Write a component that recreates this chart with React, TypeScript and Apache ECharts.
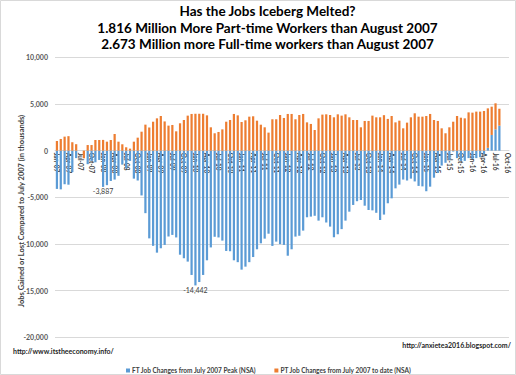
import React, { useEffect, useRef } from 'react';
import * as echarts from 'echarts';

const MONTHS = ['Jan', 'Feb', 'Mar', 'Apr', 'May', 'Jun', 'Jul', 'Aug', 'Sep', 'Oct', 'Nov', 'Dec'];
const YEARS = ['07', '08', '09', '10', '11', '12', '13', '14', '15', '16'];
// Jan-07 .. Oct-16
const CATEGORIES: string[] = YEARS.flatMap((y) => MONTHS.map((m) => `${m}-${y}`)).slice(0, 118);

const FT_LABEL = 'FT Job Changes from July 2007 Peak (NSA)';
const PT_LABEL = 'PT Job Changes from July 2007 to date (NSA)';

const Y_MIN = -20000;
const Y_MAX = 10000;
const Y_STEP = 5000;

// thousands, Jan-07 .. Aug-16
const FT_CHANGES = [
  -4100, -4150, -3600, -3650, -2300, -800, 0, 0, -1450, -1100, -1250, -1000,
  -3887, -3700, -3250, -3100, -2700, -1500, -1900, -1100, -3000, -3200, -4800, -6700,
  -9400, -10200, -10930, -10460, -10100, -9200, -9030, -9300, -11150, -11530, -11890, -13320,
  -14442, -14080, -13320, -11750, -10370, -9230, -9300, -9640, -10750, -10780, -11750, -11950,
  -12750, -12430, -11950, -11400, -10570, -9930, -9430, -8900, -10210, -9750, -10020, -10100,
  -11260, -10570, -9210, -9120, -8570, -7140, -7070, -6980, -7500, -7140, -7700, -8140,
  -9280, -8960, -8410, -7500, -6540, -5820, -5420, -5290, -5900, -6360, -6400, -6660,
  -7430, -6850, -5640, -5110, -4040, -3640, -3100, -3200, -3000, -3300, -3780, -3830,
  -4350, -3860, -2900, -2400, -1600, -1300, -1000, -100, -800, -1100, -1100, -800,
  -900, -800, -700, -400, 300, 1680, 2280, 2673,
];

const PT_CHANGES = [
  1035, 1250, 1500, 1550, 900, 690, 0, -820, 600, 600, 1140, 1140,
  1150, 960, 1140, 1785, 960, 680, 360, 215, 960, 1390, 2030, 2785,
  2480, 3100, 3460, 3710, 3130, 2680, 2750, 2070, 2930, 3280, 3750, 3930,
  3950, 3950, 3950, 3780, 2500, 1860, 2000, 2280, 3100, 3280, 3930, 3780,
  3070, 3250, 3640, 3680, 3210, 2780, 2500, 1930, 3360, 3360, 3820, 3500,
  3930, 3930, 3360, 3820, 3930, 3030, 2860, 2210, 3460, 3860, 3890, 3820,
  3570, 3890, 3750, 3890, 3570, 3280, 3280, 2500, 3180, 3180, 3750, 3570,
  3570, 3800, 3400, 3710, 3030, 3210, 2390, 3000, 3570, 4000, 3640, 3640,
  3710, 3930, 3280, 3180, 2390, 1860, 2500, 3100, 3710, 3530, 3460, 4100,
  4070, 4180, 4180, 4250, 4230, 3030, 2790, 1816,
];

const ANNOTATIONS = [
  { index: 12, value: -3887, text: '-3,887' },
  { index: 36, value: -14442, text: '-14,442' },
];

const TITLE_LINES = [
  'Has the Jobs Iceberg Melted?',
  '1.816 Million More Part-time Workers than August 2007',
  '2.673 Million more Full-time workers than August 2007',
];

const FONT = 'Lato, "Open Sans", sans-serif';

const GRID_TOP = 57.3;
const GRID_BOTTOM = 37.7;
const CHART_H = 375;

export default function App() {
  const ref = useRef<HTMLDivElement>(null);

  useEffect(() => {
    if (!ref.current) return;
    const chart = echarts.init(ref.current, null, { renderer: 'svg' });
    const plotH = CHART_H - GRID_TOP - GRID_BOTTOM;
    // move the category axis (labels) up to the zero line
    const zeroOffset = -((0 - Y_MIN) / (Y_MAX - Y_MIN)) * plotH;
    chart.setOption({
      animation: false,
      backgroundColor: '#ffffff',
      textStyle: { fontFamily: FONT },
      grid: { left: 55, right: 7, top: GRID_TOP, bottom: GRID_BOTTOM, containLabel: false },
      legend: {
        left: 121,
        top: 362,
        itemWidth: 4,
        itemHeight: 4,
        itemGap: 18,
        icon: 'rect',
        textStyle: { fontSize: 6.5, fontWeight: 'bold', color: '#404040', fontFamily: FONT, padding: [0, 0, 0, -3] },
        data: [FT_LABEL, PT_LABEL],
      },
      xAxis: {
        type: 'category',
        data: CATEGORIES,
        boundaryGap: true,
        offset: zeroOffset,
        axisLine: { onZero: false, lineStyle: { color: '#d9d9d9', width: 1 } },
        axisTick: { show: false },
        axisLabel: {
          interval: 2,
          rotate: -90,
          margin: 2,
          fontSize: 6.5,
          fontWeight: 'bold',
          color: '#404040',
          fontFamily: FONT,
        },
        splitLine: { show: false },
      },
      yAxis: {
        type: 'value',
        min: Y_MIN,
        max: Y_MAX,
        interval: Y_STEP,
        axisLine: { show: false },
        axisTick: { show: false },
        axisLabel: {
          margin: 7,
          fontSize: 7,
          fontWeight: 'bold',
          color: '#595959',
          fontFamily: FONT,
          formatter: (v: number) => v.toLocaleString('en-US'),
        },
        splitLine: { lineStyle: { color: '#d9d9d9', width: 1 } },
      },
      series: [
        {
          name: FT_LABEL,
          type: 'bar',
          stack: 'jobs',
          data: FT_CHANGES,
          barWidth: '58%',
          itemStyle: { color: '#5B9BD5' },
          markPoint: {
            symbol: 'rect',
            symbolSize: 0,
            label: {
              show: true,
              position: 'bottom',
              distance: 1,
              fontSize: 7,
              color: '#404040',
              fontFamily: FONT,
              formatter: (p: any) => p.name,
            },
            data: ANNOTATIONS.map((a) => ({ name: a.text, coord: [a.index, a.value] })),
          },
        },
        {
          name: PT_LABEL,
          type: 'bar',
          stack: 'jobs',
          data: PT_CHANGES,
          barWidth: '58%',
          itemStyle: { color: '#ED7D31' },
        },
      ],
      graphic: [
        {
          type: 'rect',
          shape: { x: 0.5, y: 0.5, width: 515, height: 374 },
          style: { fill: 'none', stroke: '#d9d9d9', lineWidth: 1 },
          silent: true,
        },
        {
          type: 'text',
          x: 267.5,
          y: 3,
          style: {
            text: TITLE_LINES.join('\n'),
            textAlign: 'center',
            fontSize: 13.5,
            fontWeight: 'bold',
            fontFamily: FONT,
            lineHeight: 16.5,
            fill: '#000000',
          },
        },
        {
          type: 'text',
          x: 21,
          y: 211,
          rotation: Math.PI / 2,
          style: {
            text: 'Jobs Gained or Lost Compared to July 2007 (in thousands)',
            textAlign: 'center',
            textVerticalAlign: 'middle',
            fontSize: 7.5,
            fontWeight: 'bold',
            fontFamily: FONT,
            fill: '#404040',
          },
        },
        {
          type: 'text',
          x: 13,
          y: 351,
          style: {
            text: 'http://www.itstheeconomy.info/',
            textAlign: 'left',
            textVerticalAlign: 'middle',
            fontSize: 7,
            fontWeight: 'bold',
            fontFamily: FONT,
            fill: '#262626',
          },
        },
        {
          type: 'text',
          x: 511,
          y: 345,
          style: {
            text: 'http://anxietea2016.blogspot.com/',
            textAlign: 'right',
            textVerticalAlign: 'middle',
            fontSize: 7,
            fontWeight: 'bold',
            fontFamily: FONT,
            fill: '#262626',
          },
        },
      ],
    });
    return () => chart.dispose();
  }, []);

  return (
    <div
      ref={ref}
      style={{ position: 'fixed', left: 0, top: 0, width: 516, height: 375, background: '#ffffff' }}
    />
  );
}
